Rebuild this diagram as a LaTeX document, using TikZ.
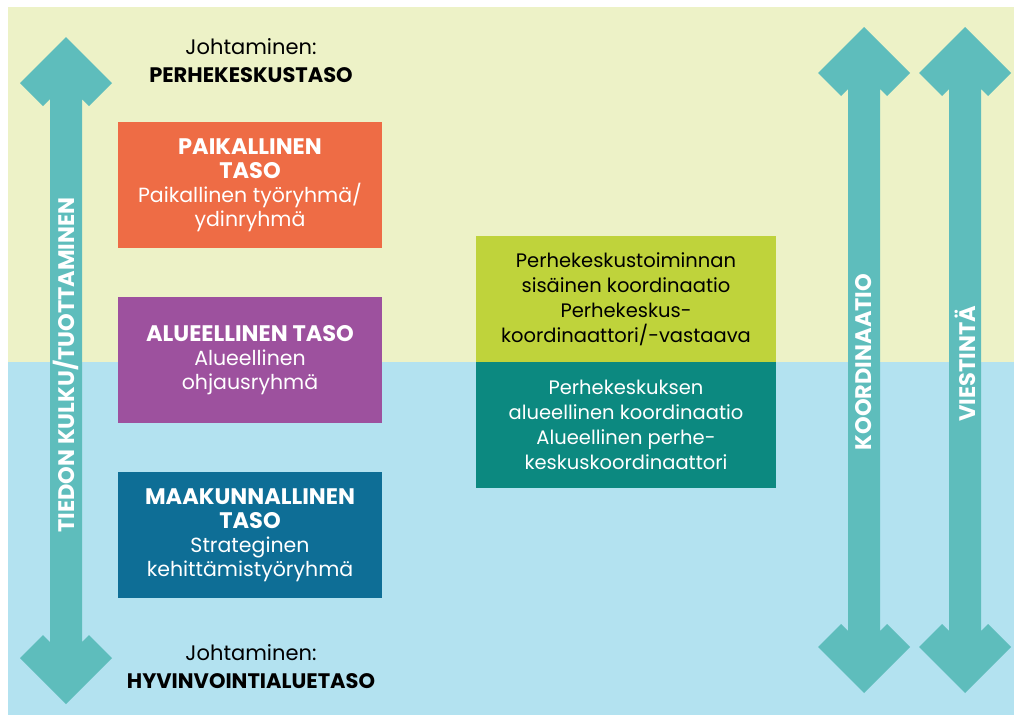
\documentclass[tikz,border=0pt]{standalone}
\usepackage{fontspec}
\setmainfont{Poppins}
\definecolor{bgtop}{HTML}{EDF2C7}
\definecolor{bgbot}{HTML}{B3E2F0}
\definecolor{arrowteal}{HTML}{5EBDBC}
\definecolor{paikorange}{HTML}{EE6C45}
\definecolor{aluepurple}{HTML}{9D519E}
\definecolor{maakblue}{HTML}{0E6E96}
\definecolor{koordlime}{HTML}{BFD33B}
\definecolor{koordteal}{HTML}{0C8980}
\newcommand{\tasotitle}[1]{{\bfseries\fontsize{22.5}{24}\selectfont #1}}

\begin{document}
\begin{tikzpicture}[x=1pt, y=-1pt,
    tasobox/.style={minimum width=264pt, minimum height=126pt, inner sep=0pt,
      align=center, text=white, font=\fontsize{20.5}{24}\selectfont},
    koordbox/.style={minimum width=300pt, minimum height=126pt, inner sep=0pt,
      align=center, font=\fontsize{19.5}{25}\selectfont},
    johto/.style={align=center, font=\fontsize{21}{28}\selectfont},
    arrowlabel/.style={rotate=90, text=white, font=\bfseries\fontsize{22.5}{24}\selectfont}]
    \useasboundingbox (0,0) rectangle (1014,715);
    \fill[white] (0,0) rectangle (1014,715);
    \fill[bgtop] (8,7) rectangle (1014,362);
    \fill[bgbot] (8,362) rectangle (1014,715);
    \foreach \cx/\t/\b in {66/37/704, 864/27/693, 965/27/693}{
      \fill[arrowteal] (\cx,\t) -- (\cx+46,\t+46) -- (\cx+23,\t+69) -- (\cx+16,\t+62)
        -- (\cx+16,\b-62) -- (\cx+23,\b-69) -- (\cx+46,\b-46) -- (\cx,\b)
        -- (\cx-46,\b-46) -- (\cx-23,\b-69) -- (\cx-16,\b-62)
        -- (\cx-16,\t+62) -- (\cx-23,\t+69) -- (\cx-46,\t+46) -- cycle;
    }
    \node[johto] (top) at (251,61) {Johtaminen:\\\textbf{PERHEKESKUSTASO}};
    \node[johto] (bottom) at (251,667) {Johtaminen:\\\textbf{HYVINVOINTIALUETASO}};
    \node[tasobox, fill=paikorange] (paikallinen) at (250,185)
      {\tasotitle{PAIKALLINEN}\\\tasotitle{TASO}\\Paikallinen työryhmä/\\ydinryhmä};
    \node[tasobox, fill=aluepurple] (alueellinen) at (250,360)
      {\tasotitle{ALUEELLINEN TASO}\\Alueellinen\\ohjausryhmä};
    \node[tasobox, fill=maakblue] (maakunnallinen) at (250,535)
      {\tasotitle{MAAKUNNALLINEN}\\\tasotitle{TASO}\\Strateginen\\kehittämistyöryhmä};
    \node[koordbox, fill=koordlime] (sisainen) at (626,299)
      {Perhekeskustoiminnan\\sisäinen koordinaatio\\Perhekeskus-\\koordinaattori/-vastaava};
    \node[koordbox, fill=koordteal, text=white] (alueellinenk) at (626,425)
      {Perhekeskuksen\\alueellinen koordinaatio\\Alueellinen perhe-\\keskuskoordinaattori};
    \node[arrowlabel] (tiedon) at (66,365) {TIEDON KULKU/TUOTTAMINEN};
    \node[arrowlabel] (koordinaatio) at (864,362) {KOORDINAATIO};
    \node[arrowlabel] (viestinta) at (965,364) {VIESTINTÄ};
\end{tikzpicture}
\end{document}
